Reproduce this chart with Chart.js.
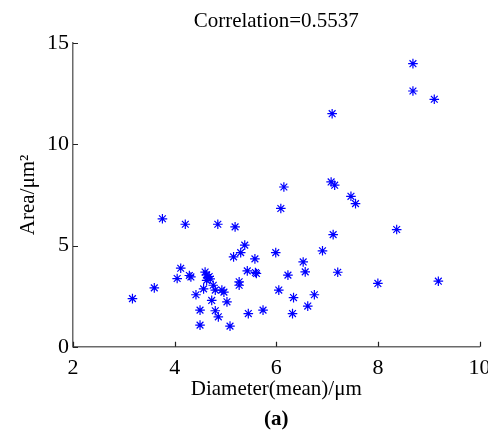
<!DOCTYPE html>
<html>
<head>
<meta charset="utf-8">
<script src="https://cdn.jsdelivr.net/npm/chart.js@4/dist/chart.umd.min.js"></script>
<style>
  html, body { margin: 0; padding: 0; background: #fff; overflow: hidden; }
  #chart { display: block; }
</style>
</head>
<body>
<canvas id="chart" width="501" height="433"></canvas>
<script>
// mean diameter (um) and area (um^2) for each cell
const diameter = [
  3.17, 3.60, 3.76, 4.05, 4.12, 4.21, 4.29, 4.32, 4.42, 4.50,
  4.50, 4.57, 4.60, 4.63, 4.68, 4.70, 4.63, 4.65, 4.73, 4.76,
  4.80, 4.80, 4.86, 4.85, 4.93, 4.97, 5.03, 5.09, 5.16, 5.19,
  5.27, 5.27, 5.30, 5.38, 5.43, 5.45, 5.58, 5.59, 5.61, 5.74,
  5.99, 6.05, 6.09, 6.15, 6.23, 6.32, 6.34, 6.53, 6.57, 6.62,
  6.75, 6.91, 7.08, 7.10, 7.12, 7.15, 7.21, 7.47, 7.56, 8.00,
  8.37, 8.69, 8.69, 9.11, 9.19
];
const area = [
  2.38, 2.91, 6.32, 3.37, 3.88, 6.05, 3.52, 3.45, 2.57, 1.81,
  1.07, 2.86, 3.69, 3.55, 3.47, 3.35, 3.28, 3.42, 2.29, 3.04,
  1.78, 2.80, 1.48, 6.05, 2.80, 2.70, 2.22, 1.02, 4.44, 5.92,
  3.21, 3.04, 4.65, 5.02, 3.75, 1.64, 4.34, 3.67, 3.62, 1.81,
  4.65, 2.80, 6.83, 7.89, 3.54, 1.64, 2.43, 4.19, 3.70, 2.01,
  2.57, 4.74, 8.14, 11.51, 5.54, 7.98, 3.68, 7.43, 7.07, 3.13,
  5.79, 13.98, 12.63, 12.22, 3.24
];
const xTicks = [2, 4, 6, 8, 10];
const yTicks = [0, 5, 10, 15];

const points = diameter.map((d, i) => ({ x: d, y: area[i] }));
const serif = "'Liberation Serif', 'Times New Roman', serif";

// short tick marks pointing into the axes, like MATLAB
const innerTicks = {
  id: "innerTicks",
  afterDraw(chart) {
    const { ctx, chartArea, scales } = chart;
    const len = 5;
    ctx.save();
    ctx.strokeStyle = "#222";
    ctx.lineWidth = 1.2;
    ctx.beginPath();
    xTicks.forEach((v) => {
      const px = Math.round(scales.x.getPixelForValue(v)) + 0.5;
      ctx.moveTo(px, chartArea.bottom);
      ctx.lineTo(px, chartArea.bottom - len);
    });
    yTicks.forEach((v) => {
      const py = Math.round(scales.y.getPixelForValue(v)) + 0.5;
      ctx.moveTo(chartArea.left, py);
      ctx.lineTo(chartArea.left + len, py);
    });
    ctx.stroke();
    ctx.restore();
  },
};

new Chart(document.getElementById("chart"), {
  type: "scatter",
  data: {
    datasets: [{
      data: points,
      pointStyle: "star",
      pointRadius: 4.8,
      pointBorderWidth: 1.2,
      borderColor: "#0000ff",
      backgroundColor: "#0000ff",
    }],
  },
  options: {
    responsive: false,
    animation: false,
    layout: { padding: 0 },
    plugins: {
      legend: { display: false },
      tooltip: { enabled: false },
      title: {
        display: true,
        text: "Correlation=0.5537",
        fullSize: false,
        color: "#000",
        font: { family: serif, size: 21, weight: "normal" },
        padding: { top: 9, bottom: 8.8 },
      },
      subtitle: {
        display: true,
        position: "bottom",
        text: "(a)",
        fullSize: false,
        color: "#000",
        font: { family: serif, size: 21, weight: "bold" },
        padding: { top: 0, bottom: 1 },
      },
    },
    scales: {
      x: {
        type: "linear",
        min: 2,
        max: 10,
        afterBuildTicks: (s) => { s.ticks = xTicks.map((v) => ({ value: v })); },
        afterFit: (s) => { s.height = 60; },
        ticks: {
          color: "#000",
          padding: 10.5,
          font: { family: serif, size: 22, lineHeight: 1 },
        },
        grid: { display: true, drawOnChartArea: false, drawTicks: false },
        border: { display: true, color: "#6a6a6a", width: 1.5 },
        title: {
          display: true,
          text: "Diameter(mean)/μm",
          color: "#000",
          font: { family: serif, size: 21 },
          padding: { top: 2, bottom: 4.5 },
        },
      },
      y: {
        type: "linear",
        min: 0,
        max: 15,
        afterBuildTicks: (s) => { s.ticks = yTicks.map((v) => ({ value: v })); },
        afterFit: (s) => { s.width = 73; },
        ticks: {
          color: "#000",
          padding: 4,
          font: { family: serif, size: 22, lineHeight: 1 },
        },
        grid: { display: true, drawOnChartArea: false, drawTicks: false },
        border: { display: true, color: "#6a6a6a", width: 1.5 },
        title: {
          display: true,
          text: "Area/μm²",
          color: "#000",
          font: { family: serif, size: 21 },
          padding: { top: 16, bottom: 6 },
        },
      },
    },
  },
  plugins: [innerTicks],
});
</script>
</body>
</html>
